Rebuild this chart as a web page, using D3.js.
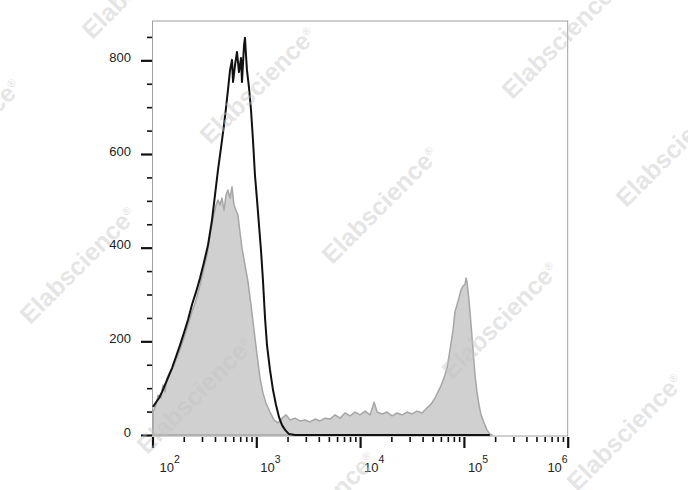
<!DOCTYPE html>
<html><head><meta charset="utf-8">
<script src="https://cdn.jsdelivr.net/npm/d3@7"></script>
<style>
html,body{margin:0;padding:0;background:#fff;}
svg{display:block;font-family:"Liberation Sans",Arial,sans-serif;}
</style></head>
<body><svg id="c" width="688" height="490"></svg>
<script>
// ---- data (x as log10 exponent of fluorescence, y = count) ----
const blackExp = [2.005,2.034,2.063,2.092,2.120,2.149,2.188,2.226,2.265,2.303,2.342,2.380,2.419,2.458,2.496,2.535,2.573,2.602,2.631,2.660,2.689,2.708,2.727,2.747,2.766,2.776,2.795,2.814,2.833,2.853,2.862,2.882,2.891,2.901,2.910,2.930,2.949,2.968,2.987,3.007,3.026,3.045,3.064,3.084,3.103,3.132,3.161,3.190,3.219,3.248,3.277,3.315,3.373,4.0,5.0,5.25];
const blackCount = [60,70,79,92,107,122,143,167,192,218,246,278,305,335,369,406,459,512,566,613,662,698,737,779,801,754,790,818,775,805,754,833,848,811,779,741,694,630,555,502,448,395,331,250,192,139,96,64,38,21,11,2,0,0,0,0];

const grayExp = [2.005,2.034,2.053,2.082,2.101,2.120,2.140,2.169,2.197,2.226,2.265,2.303,2.342,2.380,2.419,2.458,2.496,2.525,2.554,2.583,2.612,2.631,2.650,2.669,2.689,2.708,2.727,2.747,2.766,2.785,2.804,2.823,2.843,2.862,2.891,2.920,2.949,2.978,3.007,3.036,3.064,3.093,3.132,3.171,3.209,3.248,3.287,3.325,3.373,3.421,3.470,3.517,3.566,3.614,3.663,3.711,3.759,3.807,3.855,3.903,3.952,4.000,4.048,4.096,4.135,4.164,4.212,4.260,4.308,4.357,4.404,4.453,4.500,4.548,4.597,4.645,4.684,4.722,4.750,4.779,4.808,4.838,4.866,4.895,4.914,4.934,4.953,4.972,4.991,5.011,5.021,5.030,5.049,5.069,5.088,5.107,5.126,5.146,5.165,5.194,5.222,5.251,5.271];
const grayCount = [49,64,85,79,107,92,122,135,143,160,182,207,235,263,288,320,357,384,427,463,491,502,491,506,480,512,523,506,530,491,480,470,433,399,363,327,278,224,171,122,90,68,49,32,26,36,43,32,36,30,32,28,34,30,36,34,43,36,47,41,49,43,51,43,70,49,45,49,41,47,43,49,45,51,47,58,66,79,92,105,122,143,182,224,263,278,293,310,318,322,335,327,288,235,182,128,92,64,43,26,11,2,0];

const xMajor = [1e2,1e3,1e4,1e5,1e6];
const xMajorExp = ["2","3","4","5","6"];
const yMajor = [0,200,400,600,800];
const yMinor = [50,100,150,250,300,350,450,500,550,650,700,750,850];

const watermarks = [[140,-20],[-37,137],[258,85],[560,40],[380,205],[674,148],[78,265],[500,320],[195,395],[625,432],[318,510]];

// ---- drawing ----
const svg = d3.select("#c");
const L = 152.5, R = 567.7, T = 21, B = 436;
const x = d3.scaleLog().domain([1e2,1e6]).range([L,R]);
const y = d3.scaleLinear().domain([0,884]).range([435,T]);

const xMinor = [];
for (let d = 2; d < 6; d++) for (let k = 2; k <= 9; k++) xMinor.push(k*Math.pow(10,d));

const gray = grayExp.map((e,i)=>({v:Math.pow(10,e), c:grayCount[i]}));
const black = blackExp.map((e,i)=>({v:Math.pow(10,e), c:blackCount[i]}));

// frame
svg.append("rect").attr("x",L).attr("y",T).attr("width",R-L).attr("height",B-T)
  .attr("fill","none").attr("stroke","#a0a0a0").attr("stroke-width",1);

// gray filled histogram
svg.append("path").datum(gray)
  .attr("d", d3.area().x(d=>x(d.v)).y0(y(0)).y1(d=>y(d.c)))
  .attr("fill","#d0d0d0").attr("stroke","#a6a6a6").attr("stroke-width",1.5).attr("stroke-linejoin","round");

// black line histogram
svg.append("path").datum(black)
  .attr("d", d3.line().x(d=>x(d.v)).y(d=>y(d.c)))
  .attr("fill","none").attr("stroke","#111").attr("stroke-width",2).attr("stroke-linejoin","round");

// x axis
const gxMin = svg.append("g").attr("transform",`translate(0,${B+1})`)
  .call(d3.axisBottom(x).tickValues(xMinor).tickSize(5).tickFormat(""));
gxMin.select(".domain").remove();
gxMin.selectAll("line").attr("stroke","#111").attr("stroke-width",1.6);
const gxMaj = svg.append("g").attr("transform",`translate(0,${B+1})`)
  .call(d3.axisBottom(x).tickValues(xMajor).tickSize(11).tickFormat(""));
gxMaj.select(".domain").remove();
gxMaj.selectAll("line").attr("stroke","#111").attr("stroke-width",2.2);

// x labels
const xl = svg.append("g").attr("font-size",13).attr("fill","#222");
xMajor.forEach((v,i)=>{
  let px = x(v), anchor = "start";
  if (i===0) px += 7;
  else if (i===xMajor.length-1) { anchor = "end"; }
  else px += 4;
  const t = xl.append("text").attr("x",px).attr("y",472).attr("text-anchor",anchor);
  t.append("tspan").text("10");
  t.append("tspan").attr("dy",-9.5).attr("font-size",10.5).text(xMajorExp[i]);
});

// y axis
const gyMin = svg.append("g").attr("transform",`translate(${L-0.5},0)`)
  .call(d3.axisLeft(y).tickValues(yMinor).tickSize(5).tickFormat(""));
gyMin.select(".domain").remove();
gyMin.selectAll("line").attr("stroke","#111").attr("stroke-width",1.6);
const gyMaj = svg.append("g").attr("transform",`translate(${L-0.5},0)`)
  .call(d3.axisLeft(y).tickValues(yMajor).tickSize(11).tickPadding(10).tickFormat(d3.format("d")));
gyMaj.select(".domain").remove();
gyMaj.selectAll("line").attr("stroke","#111").attr("stroke-width",2.2);
gyMaj.selectAll("text").attr("font-size",13).attr("fill","#222")
  .attr("font-family","'Liberation Sans',Arial,sans-serif").attr("dy","0.1em");

// watermarks
const wm = svg.append("g").attr("pointer-events","none");
watermarks.forEach(([cx,cy])=>{
  const t = wm.append("text").attr("transform",`translate(${cx},${cy}) rotate(-45)`)
    .attr("text-anchor","middle").attr("dy","0.35em")
    .attr("font-size",25).attr("font-weight","bold")
    .attr("fill","#c4c4c4").attr("fill-opacity",0.45);
  t.append("tspan").text("Elabscience");
  t.append("tspan").attr("dy","-0.8em").attr("font-size",11).text("®");
});
</script></body></html>
